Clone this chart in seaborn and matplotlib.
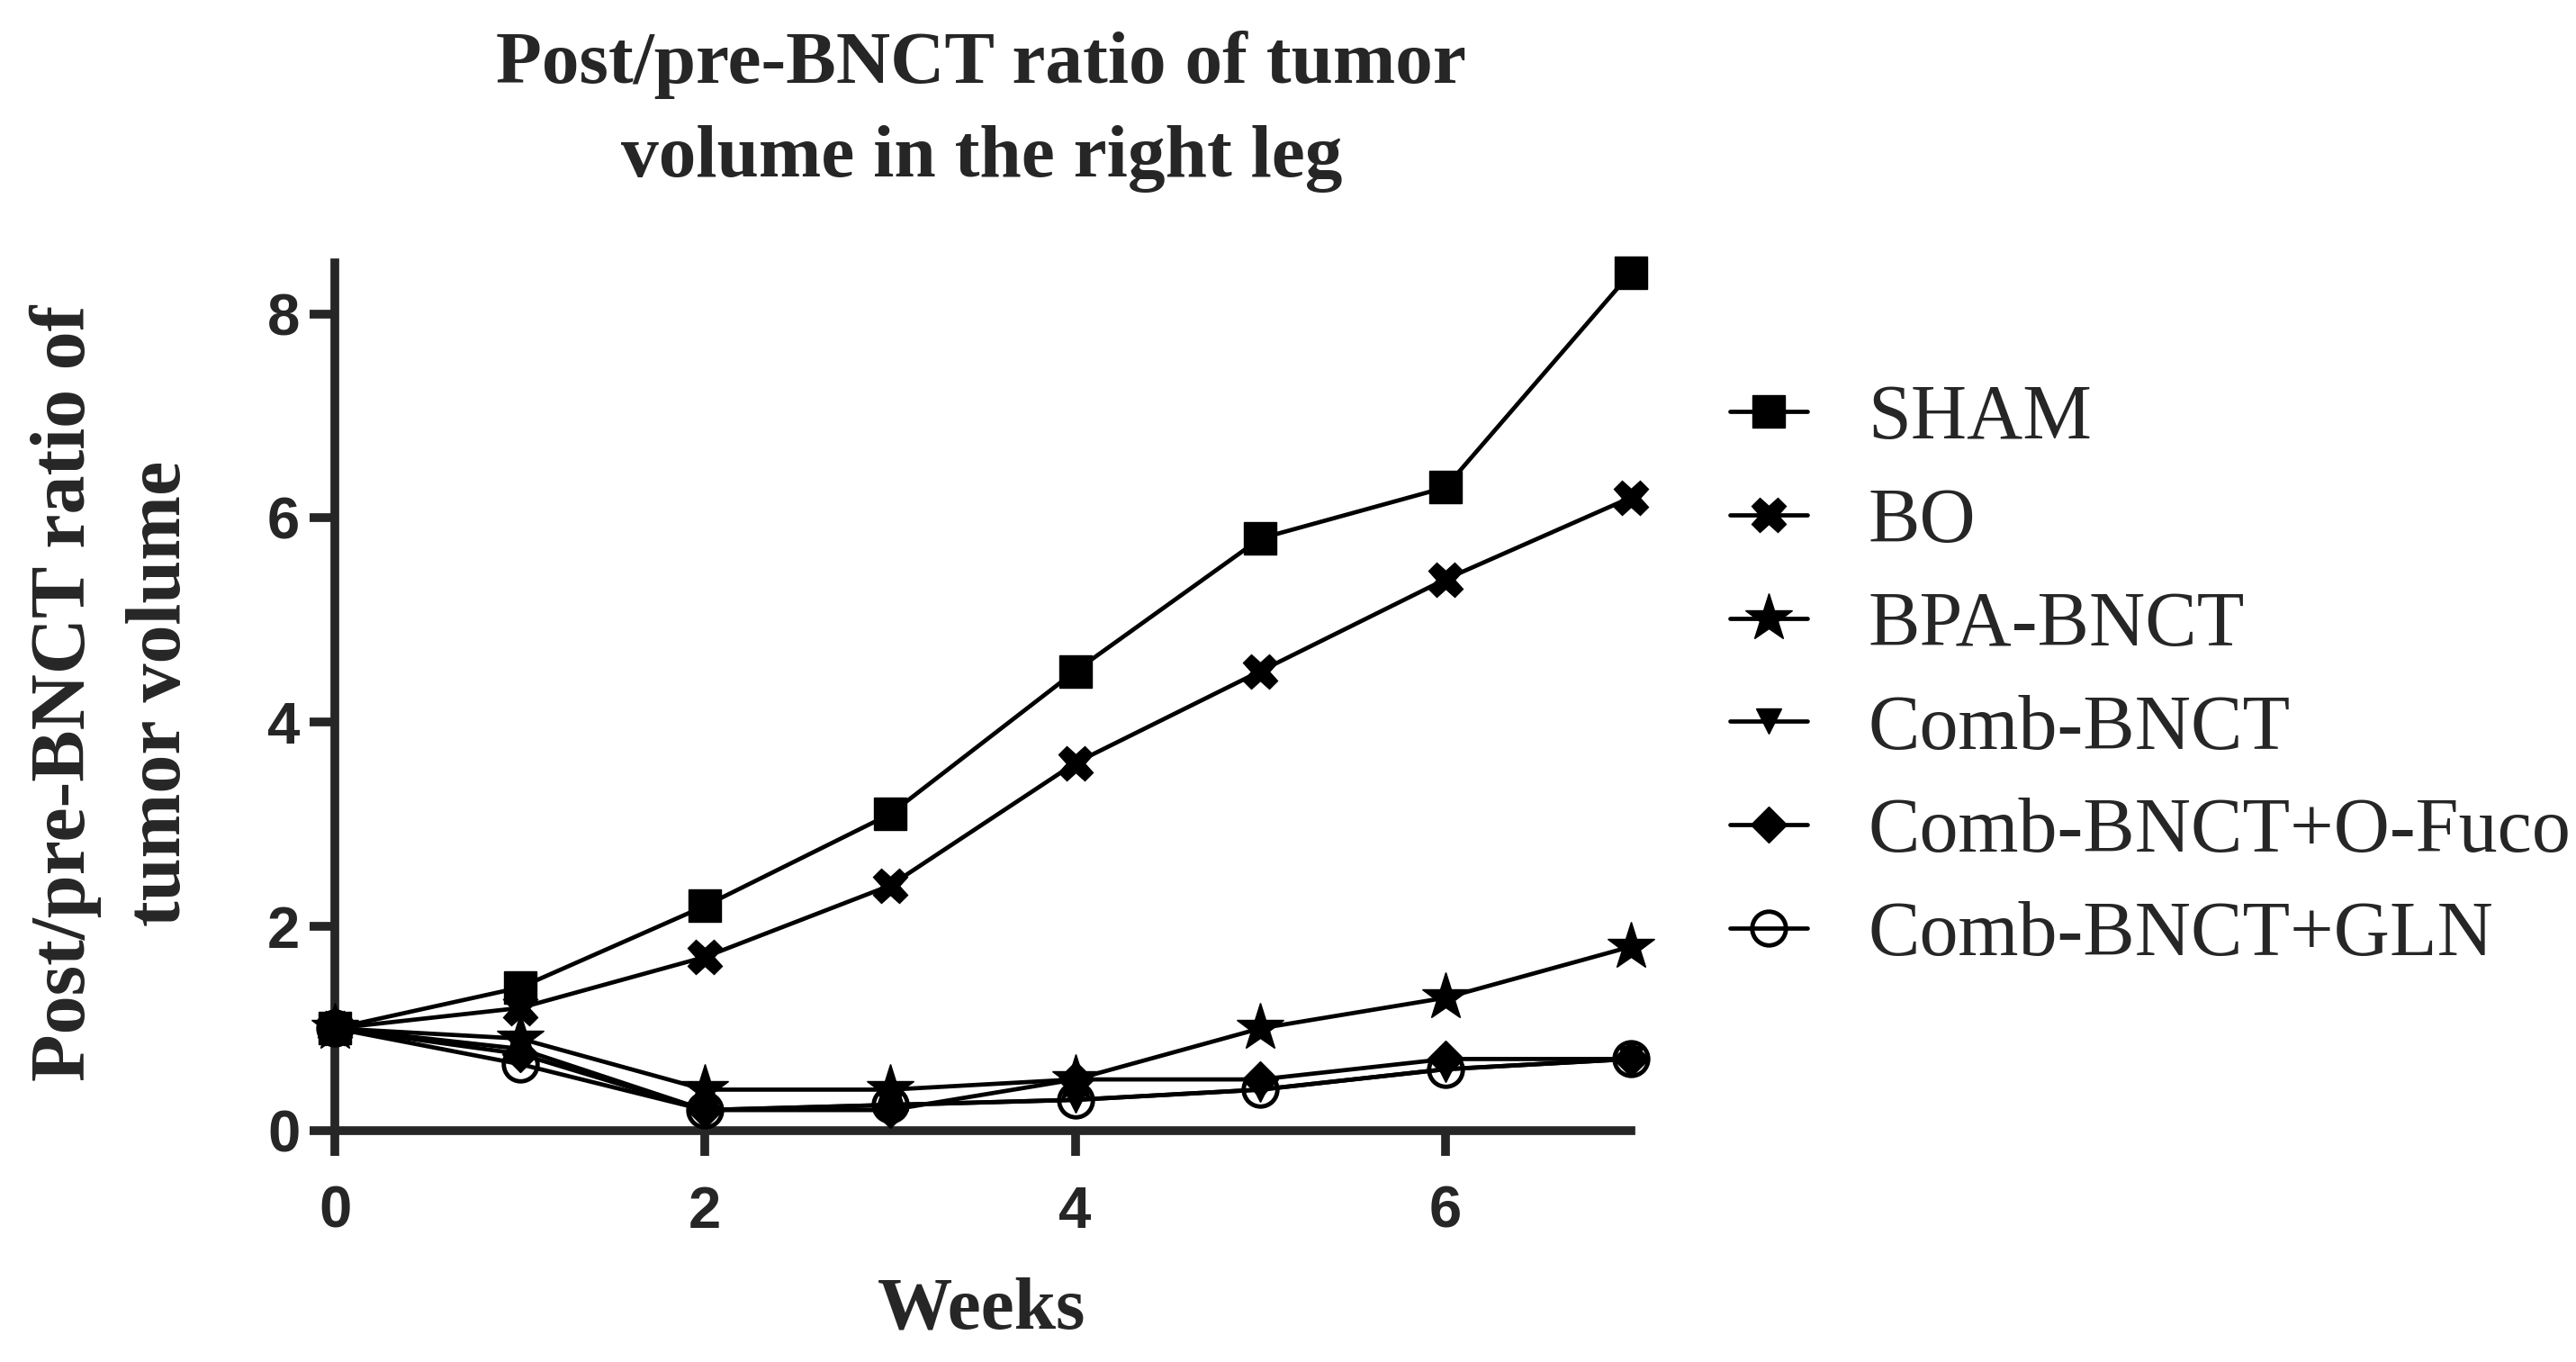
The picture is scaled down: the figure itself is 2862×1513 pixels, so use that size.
import matplotlib
matplotlib.use('Agg')
import pandas as pd
import matplotlib.pyplot as plt
import seaborn as sns

# values
weeks = [0, 1, 2, 3, 4, 5, 6, 7]
sham = [1.0, 1.4, 2.2, 3.1, 4.5, 5.8, 6.3, 8.4]
bo = [1.0, 1.2, 1.7, 2.4, 3.6, 4.5, 5.4, 6.2]
bpa_bnct = [1.0, 0.9, 0.4, 0.4, 0.5, 1.0, 1.3, 1.8]
comb_bnct = [1.0, 0.8, 0.2, 0.25, 0.3, 0.4, 0.6, 0.7]
comb_ofuco = [1.0, 0.75, 0.2, 0.2, 0.5, 0.5, 0.7, 0.7]
comb_gln = [1.0, 0.65, 0.2, 0.25, 0.3, 0.4, 0.6, 0.7]

groups = ['SHAM', 'BO', 'BPA-BNCT', 'Comb-BNCT', 'Comb-BNCT+O-Fuco', 'Comb-BNCT+GLN']
series = [sham, bo, bpa_bnct, comb_bnct, comb_ofuco, comb_gln]

df = pd.DataFrame({
    'Weeks': weeks * len(groups),
    'ratio': [v for s in series for v in s],
    'group': [g for g in groups for _ in weeks],
})

# marker, size, face
styles = {
    'SHAM': ('s', 26, 'black'),
    'BO': ('X', 28, 'black'),
    'BPA-BNCT': ('*', 40, 'black'),
    'Comb-BNCT': ('v', 20, 'black'),
    'Comb-BNCT+O-Fuco': ('D', 20, 'black'),
    'Comb-BNCT+GLN': ('o', 27, 'none'),
}

sns.set_style('ticks')
plt.rcParams['font.family'] = ['Liberation Serif', 'DejaVu Serif']

fig = plt.figure(figsize=(28.62, 15.13), dpi=100)
ax = fig.add_axes([0.130, 0.170, 0.503, 0.637])

for g in groups:
    m, ms, fc = styles[g]
    sns.lineplot(data=df[df['group'] == g], x='Weeks', y='ratio', ax=ax,
                 color='black', linewidth=3.4, marker=m, markersize=ms,
                 markerfacecolor=fc, markeredgecolor='black',
                 markeredgewidth=3.5 if fc == 'none' else 1,
                 label=g, clip_on=False, zorder=3)

ax.set_xlim(0, 7)
ax.set_ylim(0, 8.5)
ax.set_xticks([0, 2, 4, 6])
ax.set_yticks([0, 2, 4, 6, 8])
ax.set_xlabel('')
ax.set_ylabel('')
sns.despine(ax=ax)
for side in ['left', 'bottom']:
    ax.spines[side].set_linewidth(7)
ax.tick_params(axis='both', width=7, length=20, labelsize=47)
ax.tick_params(axis='x', pad=24)
ax.tick_params(axis='y', pad=8)
for lab in ax.get_xticklabels() + ax.get_yticklabels():
    lab.set_fontfamily('Liberation Sans')
    lab.set_fontweight('bold')

fig.text(0.381, 0.918, 'Post/pre-BNCT ratio of tumor\nvolume in the right leg',
         ha='center', va='center', fontsize=60, fontweight='bold', linespacing=1.5)
fig.text(0.044, 0.491, 'Post/pre-BNCT ratio of\ntumor volume', rotation=90,
         ha='center', va='center', fontsize=62, fontweight='bold', linespacing=1.45)
fig.text(0.381, 0.038, 'Weeks', ha='center', va='center', fontsize=60, fontweight='bold')

ax.legend(loc='upper left', bbox_to_anchor=(0.6715, 0.718), bbox_transform=fig.transFigure,
          frameon=False, fontsize=62, handlelength=1.0, handletextpad=0.78,
          labelspacing=0.41, borderaxespad=0, borderpad=0)

fig.savefig('out.png', dpi=100)
